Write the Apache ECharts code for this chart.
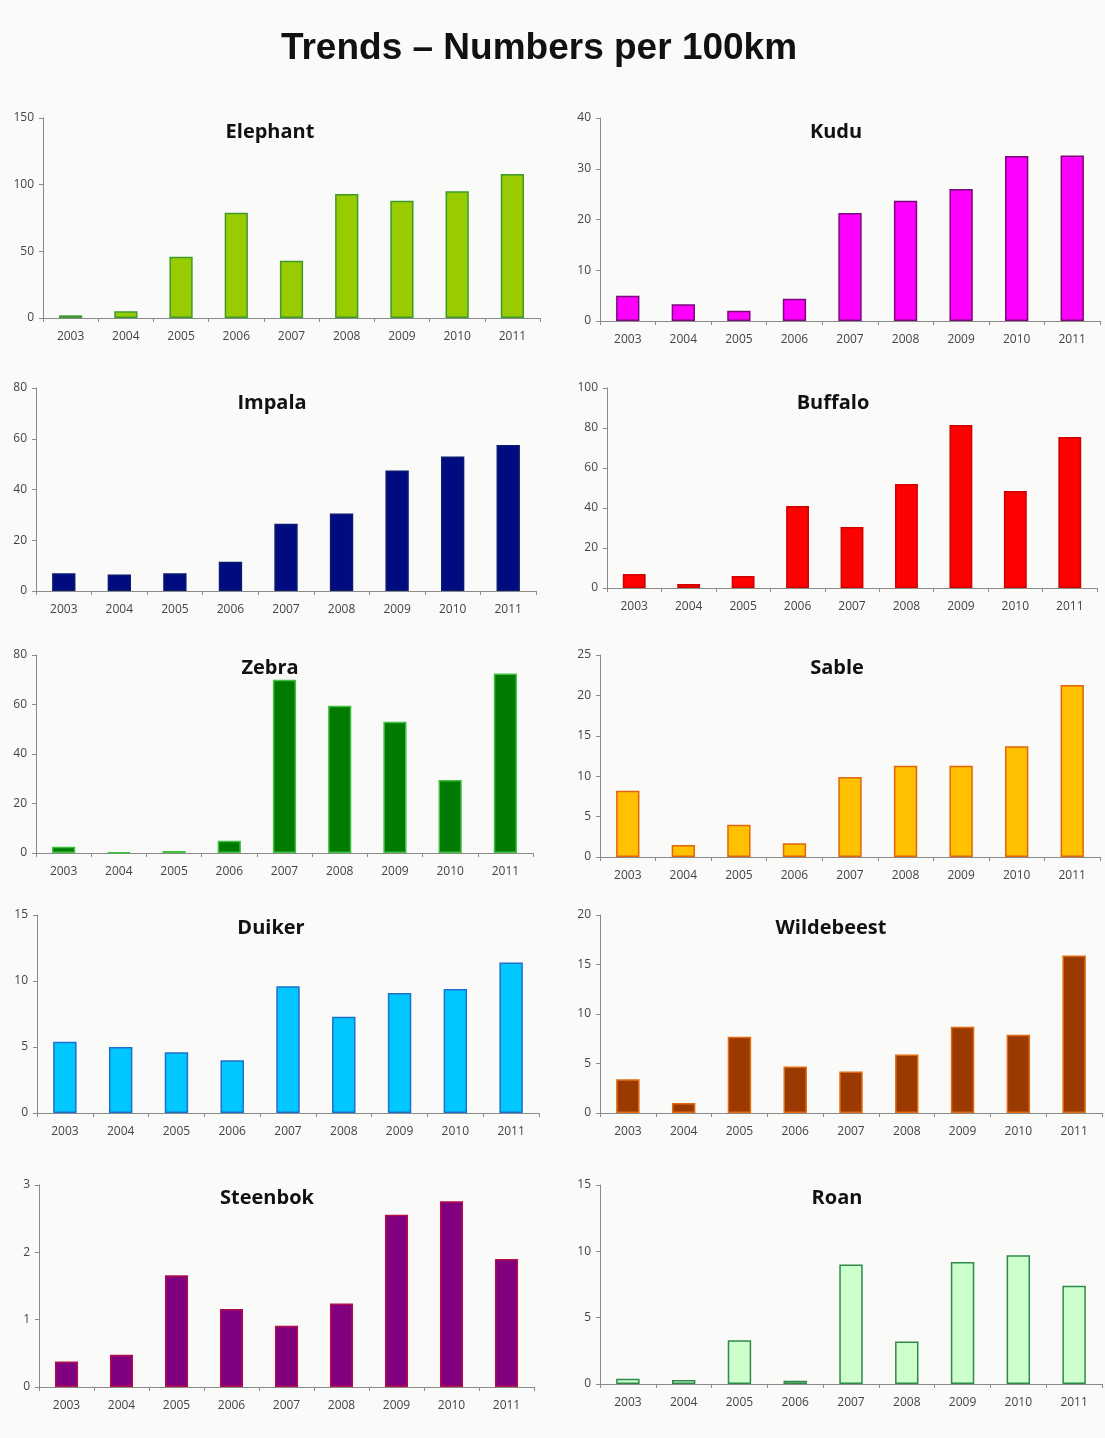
<!DOCTYPE html>
<html>
<head>
<meta charset="utf-8">
<script src="https://cdn.jsdelivr.net/npm/echarts@6/dist/echarts.min.js"></script>
<style>
html,body{margin:0;padding:0;background:#fafaf8;}
#chart{width:1105px;height:1438px;}
</style>
</head>
<body>
<div id="chart"></div>
<script>
// ---- DATA ----
const years = ['2003','2004','2005','2006','2007','2008','2009','2010','2011'];
const mainTitle = 'Trends \u2013 Numbers per 100km';
const speciesNames = ['Elephant','Kudu','Impala','Buffalo','Zebra','Sable','Duiker','Wildebeest','Steenbok','Roan'];
const elephant   = [2, 5, 46, 79, 43, 93, 88, 95, 108];
const kudu       = [5, 3.3, 2, 4.4, 21.3, 23.7, 26, 32.5, 32.6];
const impala     = [7, 6.5, 7, 11.5, 26.5, 30.5, 47.5, 53, 57.5];
const buffalo    = [7, 2, 6, 41, 30.5, 52, 81.5, 48.5, 75.5];
const zebra      = [2.5, 0.3, 0.8, 5, 70, 59.5, 53, 29.5, 72.5];
const sable      = [8.2, 1.5, 4, 1.7, 9.9, 11.3, 11.3, 13.7, 21.3];
const duiker     = [5.4, 5, 4.6, 4, 9.6, 7.3, 9.1, 9.4, 11.4];
const wildebeest = [3.4, 1, 7.7, 4.7, 4.2, 5.9, 8.7, 7.9, 15.9];
const steenbok   = [0.38, 0.48, 1.66, 1.16, 0.91, 1.24, 2.56, 2.76, 1.9];
const roan       = [0.4, 0.3, 3.3, 0.25, 9, 3.2, 9.2, 9.7, 7.4];
const yMax       = [150, 40, 80, 100, 80, 25, 15, 20, 3, 15];
const yStep      = [50, 10, 20, 20, 20, 5, 5, 5, 1, 5];
const seriesValues = [elephant, kudu, impala, buffalo, zebra, sable, duiker, wildebeest, steenbok, roan];

// ---- LAYOUT & STYLE ----
const layout = [
  {left:43,  top:118, width:497, height:200},
  {left:600, top:118, width:500, height:203},
  {left:36,  top:388, width:500, height:203},
  {left:607, top:388, width:490, height:200},
  {left:36,  top:655, width:497, height:198},
  {left:600, top:655, width:500, height:202},
  {left:37,  top:915, width:502, height:198},
  {left:600, top:915, width:502, height:198},
  {left:39,  top:1185, width:495, height:202},
  {left:600, top:1185, width:502, height:199}
];
const titlePos = [
  {x:270, y:122},{x:836, y:122},
  {x:272, y:393},{x:833, y:393},
  {x:270, y:658},{x:837, y:658},
  {x:271, y:918},{x:831, y:918},
  {x:267, y:1188},{x:837, y:1188}
];
const styles = [
  {fill:'#99cc00', border:'#3c9a2c'},
  {fill:'#ff00ff', border:'#7a0a7a'},
  {fill:'#000b80', border:'#0a1a70'},
  {fill:'#ff0000', border:'#d00000'},
  {fill:'#007a00', border:'#3fc03f'},
  {fill:'#ffc000', border:'#e2650c'},
  {fill:'#00c8ff', border:'#1f6fd0'},
  {fill:'#9a3a00', border:'#e06a10'},
  {fill:'#800080', border:'#b0104a'},
  {fill:'#ccffcc', border:'#2f8a4a'}
];

const axisColor = '#8a8a8a';
const labelColor = '#444';
const fontFam = 'Open Sans, sans-serif';

const grid = [], xAxis = [], yAxis = [], series = [], titles = [];
titles.push({
  text: mainTitle, left: 539, top: 30, textAlign: 'center', padding: 0,
  textStyle: {fontFamily: 'Liberation Sans, Arial, sans-serif', fontWeight: 'bold', fontSize: 37, color: '#111'}
});
speciesNames.forEach((name, i) => {
  grid.push(Object.assign({containLabel:false}, layout[i]));
  titles.push({
    text: name, left: titlePos[i].x, top: titlePos[i].y, textAlign: 'center', padding: 0,
    textStyle: {fontFamily: fontFam, fontWeight: 'bold', fontSize: 20, color: '#111'}
  });
  xAxis.push({
    type: 'category', gridIndex: i, data: years, boundaryGap: true,
    axisLine: {lineStyle: {color: axisColor, width: 1}},
    axisTick: {show: true, alignWithLabel: false, length: 4, lineStyle: {color: axisColor}},
    axisLabel: {color: labelColor, fontSize: 12, fontFamily: fontFam, margin: 13}
  });
  yAxis.push({
    type: 'value', gridIndex: i, min: 0, max: yMax[i], interval: yStep[i],
    axisLine: {show: true, lineStyle: {color: axisColor, width: 1}},
    axisTick: {show: true, length: 4, lineStyle: {color: axisColor}},
    splitLine: {show: false},
    axisLabel: {color: labelColor, fontSize: 12, fontFamily: fontFam, margin: 9}
  });
  series.push({
    type: 'bar', xAxisIndex: i, yAxisIndex: i, data: seriesValues[i],
    barWidth: '42%',
    itemStyle: {color: styles[i].fill, borderColor: styles[i].border, borderWidth: 1.5},
    silent: true, animation: false
  });
});

const chart = echarts.init(document.getElementById('chart'), null, {renderer: 'canvas'});
chart.setOption({
  backgroundColor: '#fafaf8',
  animation: false,
  title: titles, grid: grid, xAxis: xAxis, yAxis: yAxis, series: series
});
</script>
</body>
</html>
